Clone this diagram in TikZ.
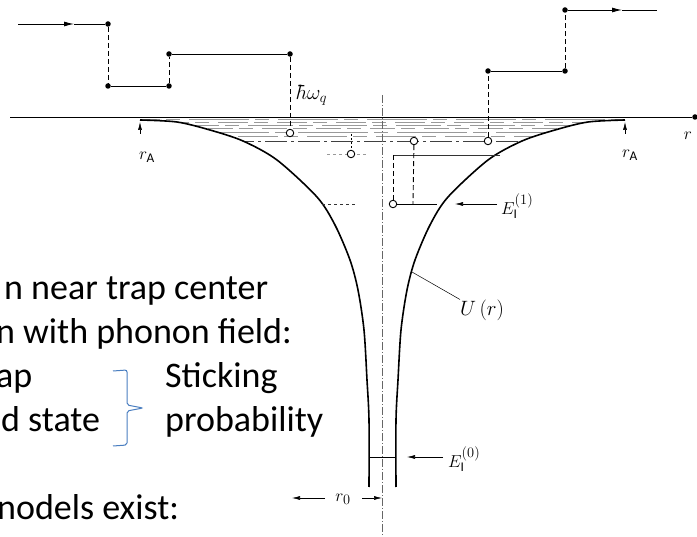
\documentclass[tikz,border=0pt]{standalone}
\usepackage{fontspec}
\setmainfont{Carlito}
\usetikzlibrary{arrows.meta}
\definecolor{bracec}{HTML}{4A7EC0}

\begin{document}
\begin{tikzpicture}[x=1pt,y=-1pt,>={Latex[length=10pt,width=5pt]},
 hop/.style={line width=.9pt},
 jump/.style={line width=.9pt,dash pattern=on 5pt off 3pt},
 dot/.style={circle,fill,inner sep=0pt,minimum size=5.5pt},
 ring/.style={circle,draw,line width=.9pt,fill=white,inner sep=0pt,minimum size=7.5pt},
 lvl/.style={black!40,line width=.5pt},
 wall/.style={line width=1.6pt},
 small/.style={->,>={Latex[length=8pt,width=4pt]},line width=.6pt},
 lab/.style={font=\fontsize{19}{19}\selectfont,inner sep=0pt},
 txt/.style={font=\fontsize{36}{36}\selectfont,anchor=base west,inner sep=0pt}]
\clip (0,0) rectangle (697,537);
\def\leftwall{(140,120) (177,122) (210,130) (243,141) (277,160) (317,197) (335,225) (350,260) (358,290) (364,330) (367,380) (369,420) (369,487)}
\def\rightwall{(396,487) (396,420) (398,380) (401,330) (407,290) (415,260) (430,225) (448,197) (488,160) (522,141) (555,130) (588,122) (625,120)}
% closely spaced levels inside the well
\begin{scope}
\clip (140,116) -- plot[smooth] coordinates {\leftwall} -- plot[smooth] coordinates {\rightwall} -- (625,116) -- cycle;
\foreach \y/\d in {119.5/60,122/30,125/45,128.5/25,132/70,136/40}
  \draw[lvl,dash pattern=on \d pt off 6pt on 14pt off 9pt] (100,\y) -- (660,\y);
\draw[lvl,black!75,dash pattern=on 22pt off 4pt on 3pt off 4pt] (100,141) -- (660,141);
\end{scope}
% axis
\coordinate (ax0) at (10,117);
\node[dot] (axend) at (695,117) {};
\draw[line width=.8pt] (ax0) -- (axend);
\node[lab] (rlab) at (688,136) {$r$};
% centre line
\draw[black!60,line width=.5pt,dash pattern=on 8pt off 2pt on 1pt off 2pt] (382,95) -- (382,537);
% potential well
\draw[wall] plot[smooth] coordinates {\leftwall};
\draw[wall] plot[smooth] coordinates {\rightwall};
% r_A marks
\draw[small] (140,134) -- (140,122);
\draw[small] (625,134) -- (625,122);
\node[lab] (rAl) at (147,157) {$r_{\mathrm A}$};
\node[lab] (rAr) at (630,155) {$r_{\mathrm A}$};
% lower levels
\draw[lvl,dashed] (327,154) -- (368,154);
\draw[lvl,black!80] (393,155) -- (500,155);
\draw[lvl,black!80,dashed] (322,204) -- (355,204);
\draw[line width=.6pt] (393,204) -- (437,204);
\draw[line width=.6pt] (369,457) -- (396,457);
% staircase above the surface
\coordinate (in) at (18,24);
\coordinate (inmid) at (74,24);
\node[dot] (s1) at (108,24) {};
\node[dot] (s2) at (108,86) {};
\node[dot] (s3) at (169,86) {};
\node[dot] (s4) at (169,54) {};
\node[dot] (s5) at (290,54) {};
\node[ring] (c1) at (290,133) {};
\draw[hop,->] (in) -- (inmid);
\draw[hop] (inmid) -- (s1);
\draw[jump] (s1) -- (s2);
\draw[hop] (s2) -- (s3);
\draw[jump] (s3) -- (s4);
\draw[hop] (s4) -- (s5);
\draw[jump] (s5) -- (c1);
\node[lab,font=\fontsize{22}{22}\selectfont,anchor=west] (hw) at (297,95) {$\hbar\omega_q$};
\node[dot] (s6) at (488,71) {};
\node[dot] (s7) at (565,71) {};
\node[dot] (s8) at (565,10) {};
\coordinate (outmid) at (622,10);
\coordinate (out) at (657,10);
\node[ring] (c2) at (488,141) {};
\draw[jump] (c2) -- (s6);
\draw[hop] (s6) -- (s7);
\draw[jump] (s7) -- (s8);
\draw[hop,->] (s8) -- (outmid);
\draw[hop] (outmid) -- (out);
% transitions inside the well
\node[ring] (c3) at (351,154) {};
\node[ring] (c4) at (414,141) {};
\node[ring] (c5) at (393,204) {};
\coordinate (q3) at (351,134);
\coordinate (q4) at (413,204);
\coordinate (q5) at (393,155);
\draw[jump,line width=.6pt,dash pattern=on 2pt off 2pt] (q3) -- (c3);
\draw[jump] (c4) -- (q4);
\draw[jump] (q5) -- (c5);
% energy labels
\coordinate (e1a) at (497,204);
\coordinate (e1b) at (455,204);
\draw[small] (e1a) -- (e1b);
\node[lab,anchor=west] (E1) at (501,206) {$E_{\mathrm I}^{(1)}$};
\coordinate (e0a) at (443,457);
\coordinate (e0b) at (407,457);
\draw[small] (e0a) -- (e0b);
\node[lab,anchor=west] (E0) at (448,459) {$E_{\mathrm I}^{(0)}$};
\node[lab,font=\fontsize{21}{21}\selectfont] (U) at (482,310) {$U\,(r)$};
\coordinate (ut) at (412,272);
\draw[line width=.5pt] (ut) -- (U.north west);
% r_0
\node[lab] (r0) at (343,499) {$r_0$};
\coordinate (r0l) at (292,498);
\coordinate (r0r) at (382,498);
\draw[small] (325,498) -- (r0l);
\draw[small] (362,498) -- (r0r);
% text on the left
\node[txt] (t1) at (4,300) {n near trap center};
\node[txt] (t2) at (-4,344) {n with phonon field:};
\node[txt] (t3) at (-4,388) {ap};
\node[txt] (t4) at (1,432) {d state};
\node[txt] (t5) at (165,388) {Sticking};
\node[txt] (t6) at (165,432) {probability};
\node[txt] (t7) at (-3,520) {nodels exist:};
\draw[bracec,line width=1pt,rounded corners=2pt] (113,371) -- (127,370) -- (127,405) -- (143,408) -- (127,411) -- (127,445) -- (113,446);
\end{tikzpicture}
\end{document}
